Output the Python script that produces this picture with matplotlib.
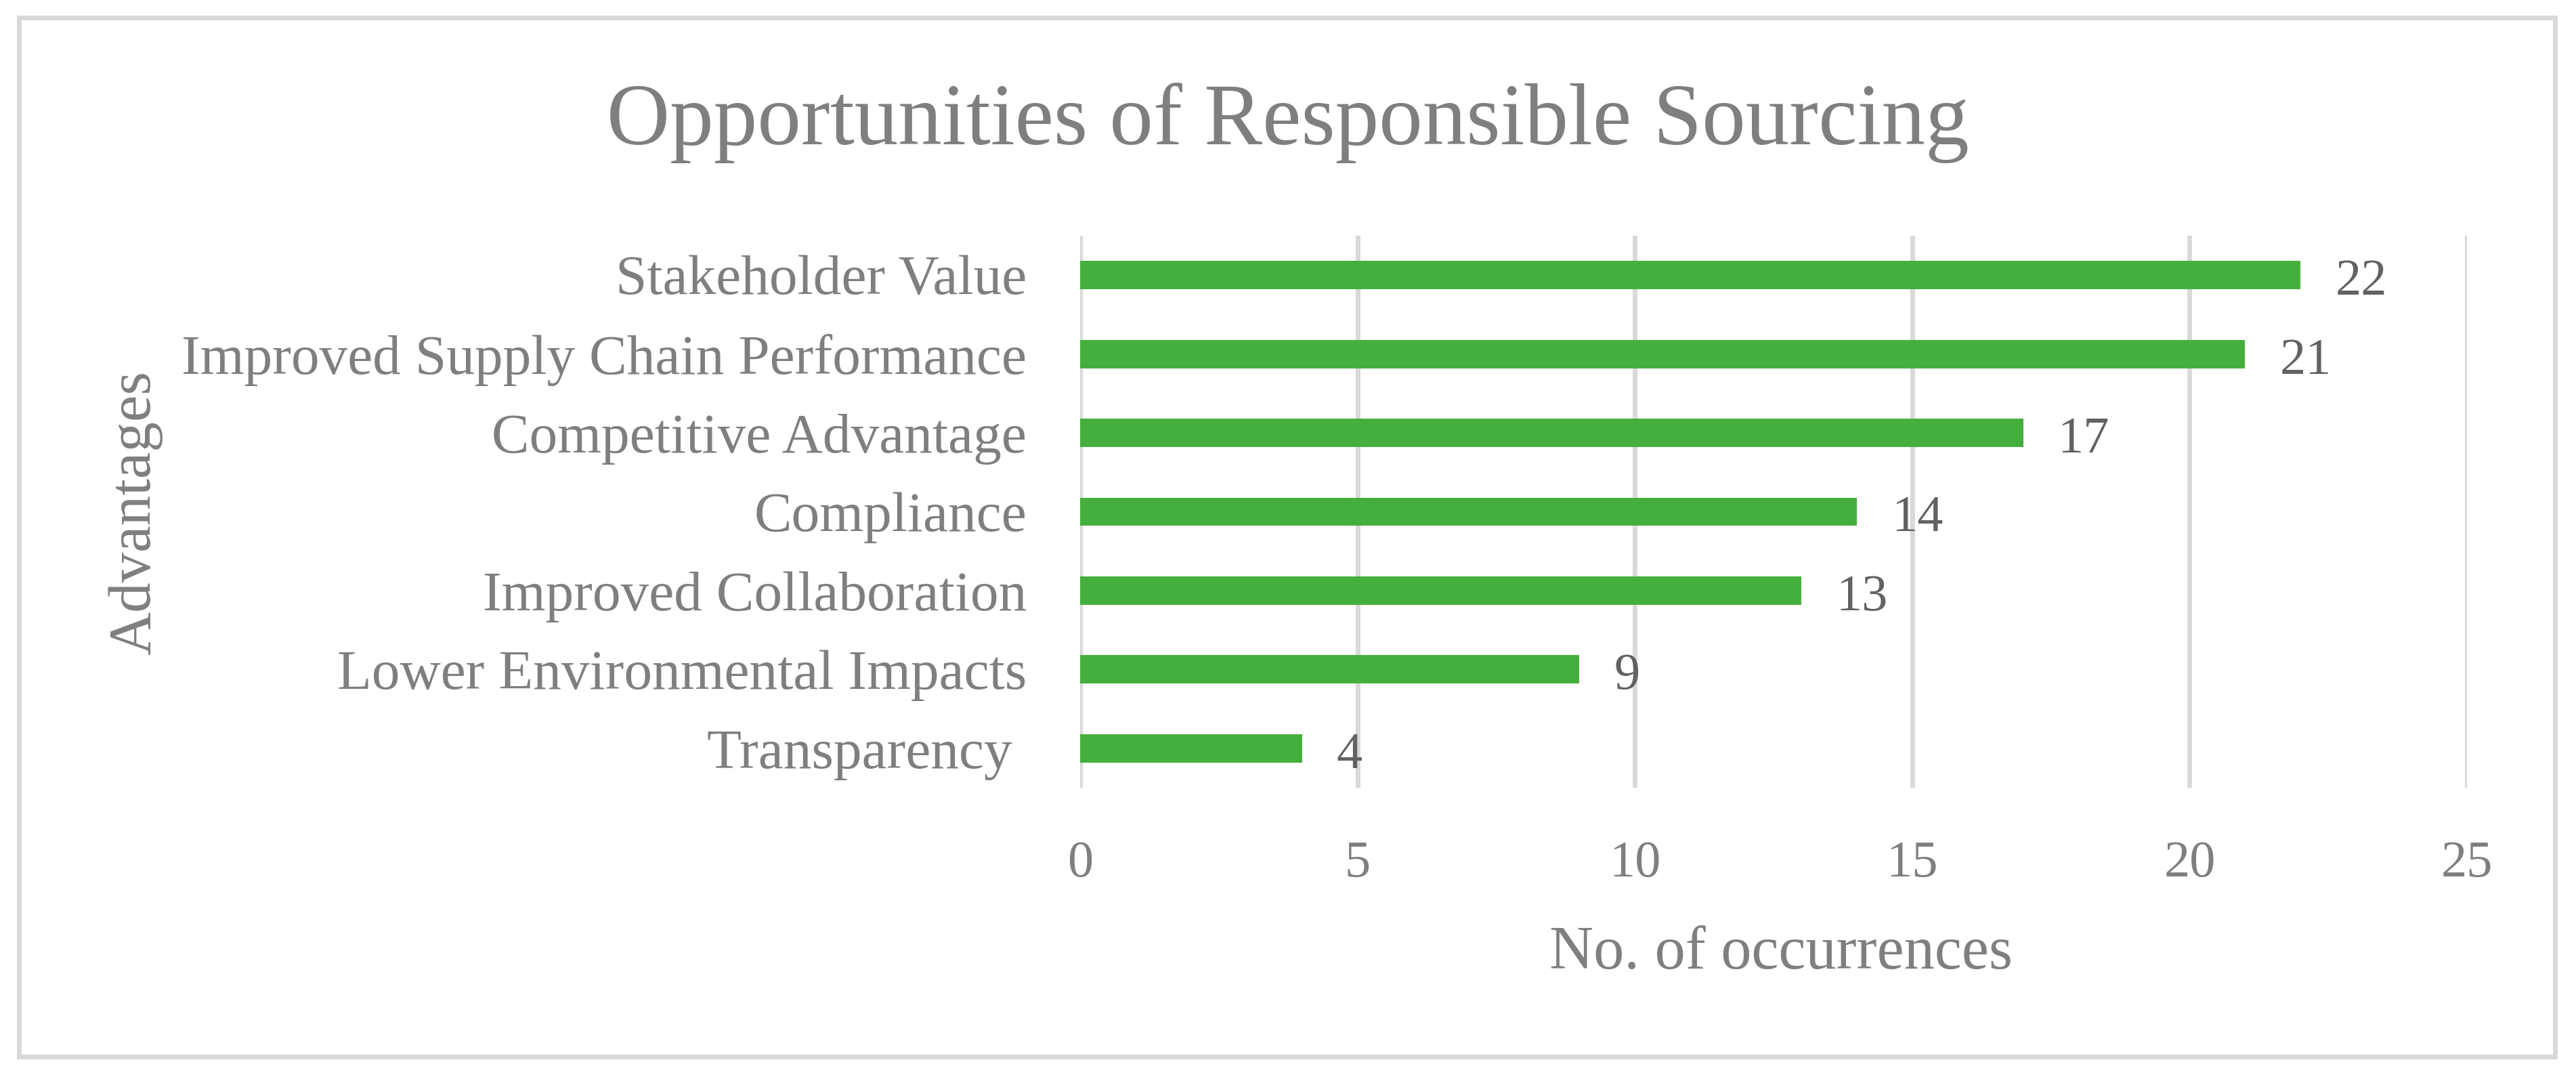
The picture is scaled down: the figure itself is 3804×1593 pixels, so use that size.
import matplotlib
matplotlib.use('Agg')
import matplotlib.pyplot as plt
from matplotlib.patches import Rectangle

# data, top row first
categories = [
    'Stakeholder Value',
    'Improved Supply Chain Performance',
    'Competitive Advantage',
    'Compliance',
    'Improved Collaboration',
    'Lower Environmental Impacts',
    'Transparency ',
]
occurrences = [22, 21, 17, 14, 13, 9, 4]
x_ticks = [0, 5, 10, 15, 20, 25]

title = 'Opportunities of Responsible Sourcing'
x_label = 'No. of occurrences'
y_label = 'Advantages'

W, H = 3804, 1593
DPI = 100
PX = 72 / DPI  # points per pixel

plt.rcParams['font.family'] = ['Liberation Serif', 'DejaVu Serif']

text_grey = '#7F7F7F'
label_grey = '#626262'
bar_green = '#45AF3D'
line_grey = '#D9D9D9'

fig = plt.figure(figsize=(W / DPI, H / DPI), dpi=DPI)
fig.patch.set_facecolor('white')

# plot area in pixels: x 1595..3643, y 348..1163
left, right, top, bottom = 1595, 3643, 348, 1163
ax = fig.add_axes([left / W, 1 - bottom / H, (right - left) / W, (bottom - top) / H])

pos = list(range(len(categories)))
ax.barh(pos, occurrences, height=0.36, color=bar_green, zorder=3)

for p, v in zip(pos, occurrences):
    ax.annotate(str(v), xy=(v, p), xytext=(51 * PX, -29 * PX),
                textcoords='offset points', va='baseline', ha='left',
                fontsize=55, color=label_grey)

ax.set_xlim(x_ticks[0], x_ticks[-1])
ax.set_ylim(len(categories) - 0.5, -0.5)
ax.set_xticks(x_ticks)
ax.set_yticks(pos)
ax.set_yticklabels(categories)
ax.tick_params(axis='x', length=0, pad=56, labelsize=55, labelcolor=text_grey)
ax.tick_params(axis='y', length=0, pad=79 * PX, labelsize=60, labelcolor=text_grey)

ax.grid(axis='x', color=line_grey, linewidth=7 * PX, zorder=0)
ax.grid(axis='y', visible=False)
for s in ax.spines.values():
    s.set_visible(False)

fig.text(0.5, 1 - 213 / H, title, ha='center', va='baseline',
         fontsize=93, color=text_grey)
fig.text(2630 / W, 1 - 1430 / H, x_label, ha='center',
         va='baseline', fontsize=65, color=text_grey)
fig.text(200 / W, 1 - 757 / H, y_label, rotation=90, ha='center',
         va='center', fontsize=64, color=text_grey)

# outer chart border
fig.patches.append(Rectangle((27.5 / W, 1 - 1559.5 / H), (3772.5 - 27.5) / W,
                             (1559.5 - 25.5) / H, transform=fig.transFigure,
                             fill=False, edgecolor=line_grey, linewidth=7 * PX))

fig.savefig('out.png', dpi=DPI, facecolor='white')
